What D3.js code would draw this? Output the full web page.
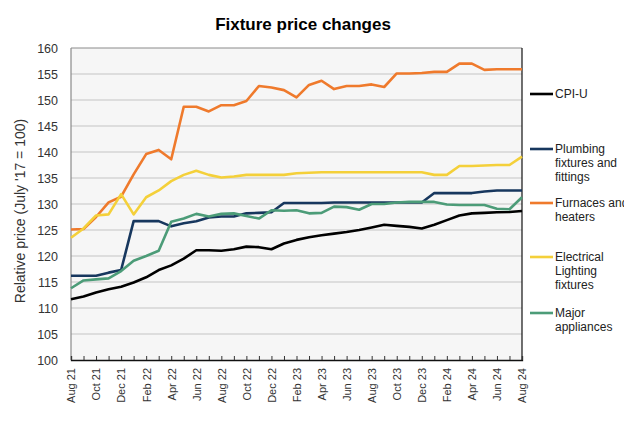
<!DOCTYPE html>
<html>
<head>
<meta charset="utf-8">
<script src="https://cdn.jsdelivr.net/npm/d3@7"></script>
<style>
  html, body { margin: 0; padding: 0; background: #ffffff; }
  svg { display: block; font-family: "Liberation Sans", Arial, sans-serif; }
</style>
</head>
<body>
<svg id="chart" width="624" height="426"></svg>
<script>
const months = ["Aug 21","Sep 21","Oct 21","Nov 21","Dec 21","Jan 22","Feb 22","Mar 22","Apr 22","May 22","Jun 22","Jul 22",
  "Aug 22","Sep 22","Oct 22","Nov 22","Dec 22","Jan 23","Feb 23","Mar 23","Apr 23","May 23","Jun 23","Jul 23",
  "Aug 23","Sep 23","Oct 23","Nov 23","Dec 23","Jan 24","Feb 24","Mar 24","Apr 24","May 24","Jun 24","Jul 24","Aug 24"];

const cpiU = [111.7,112.2,113.0,113.6,114.1,114.9,115.9,117.3,118.2,119.5,121.1,121.1,
  121.0,121.3,121.8,121.7,121.3,122.4,123.1,123.6,124.0,124.3,124.6,125.0,
  125.5,126.0,125.8,125.6,125.3,126.0,126.9,127.8,128.2,128.3,128.4,128.45,128.65];

const plumbing = [116.2,116.2,116.2,116.8,117.3,126.7,126.7,126.7,125.7,126.3,126.7,127.4,
  127.6,127.6,128.2,128.3,128.4,130.2,130.2,130.2,130.2,130.3,130.3,130.3,
  130.3,130.3,130.3,130.3,130.3,132.1,132.1,132.1,132.1,132.4,132.6,132.6,132.6];

const furnaces = [125.1,125.2,127.5,130.3,131.4,135.7,139.6,140.4,138.6,148.7,148.7,147.8,
  149.0,149.0,149.8,152.7,152.4,151.9,150.5,152.9,153.7,152.1,152.7,152.7,
  153.0,152.5,155.1,155.1,155.2,155.4,155.4,157.0,157.0,155.8,155.9,155.9,155.9];

const lighting = [123.5,125.3,127.8,128.0,131.9,128.0,131.3,132.6,134.4,135.6,136.4,135.6,
  135.1,135.3,135.6,135.6,135.6,135.6,135.9,136.0,136.1,136.1,136.1,136.1,
  136.1,136.1,136.1,136.1,136.1,135.6,135.6,137.3,137.3,137.4,137.5,137.5,139.1];

const appliances = [113.8,115.3,115.5,115.7,117.1,119.1,120.0,121.0,126.6,127.2,128.1,127.6,
  128.1,128.2,127.7,127.2,128.8,128.7,128.8,128.2,128.3,129.5,129.4,128.9,
  130.0,130.0,130.3,130.4,130.4,130.4,129.9,129.8,129.8,129.8,129.1,129.0,131.3];

const seriesNames = ["CPI-U", "Plumbing fixtures and fittings", "Furnaces and heaters", "Electrical Lighting fixtures", "Major appliances"];
const legendLines = [["CPI-U"], ["Plumbing", "fixtures and", "fittings"], ["Furnaces and", "heaters"], ["Electrical", "Lighting", "fixtures"], ["Major", "appliances"]];
const seriesColors = ["#000000", "#17375e", "#ef7a2c", "#f4d03a", "#4c9c78"];
const yTicks = [100,105,110,115,120,125,130,135,140,145,150,155,160];
const xLabels = months.filter((m, i) => i % 2 === 0);
const title = "Fixture price changes";
const yTitle = "Relative price (July '17 = 100)";

const seriesData = [cpiU, plumbing, furnaces, lighting, appliances];

const svg = d3.select("#chart");
const L = 71, R = 522, T = 48, B = 360;

const x = d3.scalePoint().domain(months).range([L, R]);
const y = d3.scaleLinear().domain([100, 160]).range([B, T]);

// plot background
svg.append("rect").attr("x", L).attr("y", T).attr("width", R - L).attr("height", B - T).attr("fill", "#f6f6f6");

// gridlines
svg.append("g").selectAll("line").data(yTicks.filter(v => v > 100 && v < 160)).join("line")
  .attr("x1", L).attr("x2", R).attr("y1", d => y(d)).attr("y2", d => y(d))
  .attr("stroke", "#c4c4c4").attr("stroke-width", 1.2);

// borders
svg.append("line").attr("x1", L).attr("x2", R).attr("y1", T).attr("y2", T).attr("stroke", "#8a8a8a").attr("stroke-width", 1);
svg.append("line").attr("x1", L).attr("x2", L).attr("y1", T).attr("y2", B).attr("stroke", "#8a8a8a").attr("stroke-width", 1.2);
svg.append("line").attr("x1", R).attr("x2", R).attr("y1", T).attr("y2", B).attr("stroke", "#111").attr("stroke-width", 1.2);

// y axis labels
const yAxis = d3.axisLeft(y).tickValues(yTicks).tickSize(0).tickPadding(13).tickFormat(d3.format("d"));
const gy = svg.append("g").attr("transform", `translate(${L},0)`).call(yAxis);
gy.select(".domain").remove();
gy.selectAll("text").attr("font-size", 12.5).attr("fill", "#333").attr("font-family", "Liberation Sans, Arial, sans-serif");

// x axis
const xAxis = d3.axisBottom(x).tickSize(-4).tickFormat(d => xLabels.includes(d) ? d : "");
const gx = svg.append("g").attr("transform", `translate(0,${B})`).call(xAxis);
gx.select(".domain").attr("stroke", "#111").attr("stroke-width", 1.3);
gx.selectAll(".tick line").attr("stroke", "#333").attr("stroke-width", 1);
gx.selectAll("text")
  .attr("font-size", 11).attr("fill", "#333").attr("font-family", "Liberation Sans, Arial, sans-serif")
  .attr("transform", "rotate(-90)")
  .attr("text-anchor", "end")
  .attr("x", -8).attr("y", 0).attr("dy", "0.35em");

// lines
const lineGen = d3.line().x((d, i) => x(months[i])).y(d => y(d));
svg.append("g").selectAll("path").data(seriesData).join("path")
  .attr("d", d => lineGen(d))
  .attr("fill", "none")
  .attr("stroke", (d, i) => seriesColors[i])
  .attr("stroke-width", 2.6)
  .attr("stroke-linejoin", "round");

// title
svg.append("text").attr("x", 303).attr("y", 30).attr("text-anchor", "middle")
  .attr("font-size", 17).attr("font-weight", "bold").attr("fill", "#000").text(title);

// y title
svg.append("text").attr("transform", "translate(25,211) rotate(-90)").attr("text-anchor", "middle")
  .attr("font-size", 14).attr("fill", "#333").text(yTitle);

// legend
const legendY = [94, 149, 203, 257, 313];
const lg = svg.append("g");
seriesNames.forEach((name, i) => {
  const g = lg.append("g").attr("transform", `translate(530,${legendY[i]})`);
  g.append("line").attr("x1", 0).attr("x2", 23).attr("y1", 0).attr("y2", 0)
    .attr("stroke", seriesColors[i]).attr("stroke-width", 2.6);
  const t = g.append("text").attr("x", 25).attr("y", 0).attr("font-size", 12).attr("fill", "#222");
  legendLines[i].forEach((ln, j) => {
    t.append("tspan").attr("x", 25).attr("dy", j === 0 ? "0.35em" : "14").text(ln);
  });
});
</script>
</body>
</html>
